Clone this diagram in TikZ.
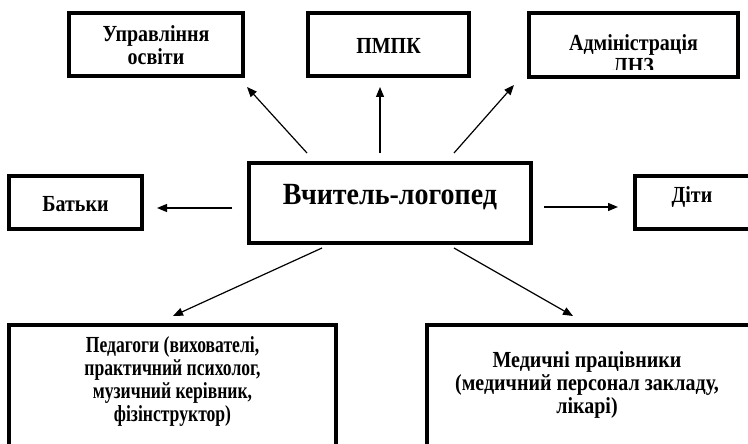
\documentclass[tikz,border=0pt]{standalone}
\usepackage{fontspec}
\setmainfont{Liberation Serif}
\usetikzlibrary{arrows.meta}
\begin{document}
\begin{tikzpicture}[x=1pt,y=-1pt,
  box/.style={draw, line width=4pt, inner sep=0pt, rectangle},
  txt/.style={font=\fontsize{20}{20}\selectfont\bfseries, align=center, inner sep=0pt, transform shape},
  bigtxt/.style={font=\fontsize{28}{28}\selectfont\bfseries, align=center, inner sep=0pt, transform shape},
  arr/.style={-{Triangle[length=10pt,width=8pt]}, line width=1.2pt}]
\useasboundingbox (0,0) rectangle (748,444);
\clip (0,0) rectangle (748,444);
\fill[white] (0,0) rectangle (748,444);
% top boxes
\node[box, minimum width=174pt, minimum height=63pt] (upr) at (156,44.5) {};
\begin{scope}[shift={(156,45)}, yscale=1.15]
  \node[txt] (uprt) at (0,0) {Управління\\освіти};
\end{scope}
\node[box, minimum width=161pt, minimum height=63pt] (pmpk) at (388.5,44.5) {};
\begin{scope}[shift={(388.5,46)}, yscale=1.15]
  \node[txt] (pmpkt) at (0,0) {ПМПК};
\end{scope}
\node[box, minimum width=209pt, minimum height=64pt] (adm) at (633.5,45) {};
\begin{scope}
  \clip (520,0) rectangle (745,70);
  \begin{scope}[shift={(633.5,54)}, yscale=1.15]
    \node[txt] (admt) at (0,0) {Адміністрація\\ЛНЗ};
  \end{scope}
\end{scope}
% middle row
\node[box, minimum width=133pt, minimum height=53pt] (bat) at (75.5,202.5) {};
\begin{scope}[shift={(75.5,204)}, yscale=1.15]
  \node[txt] (batt) at (0,0) {Батьки};
\end{scope}
\node[box, minimum width=282pt, minimum height=80pt] (main) at (390,203) {};
\begin{scope}[shift={(390,197)}, yscale=1.1]
  \node[bigtxt] (maint) at (0,0) {Вчитель-логопед};
\end{scope}
\node[box, minimum width=117pt, minimum height=53pt] (dity) at (693.5,202.5) {};
\begin{scope}[shift={(692,197)}, yscale=1.15]
  \node[txt] (ditytxt) at (0,0) {Діти};
\end{scope}
% bottom boxes
\node[box, minimum width=327pt, minimum height=140pt] (ped) at (172.5,395) {};
\begin{scope}[shift={(172.5,381.5)}, xscale=0.88, yscale=1.15]
  \node[txt] (pedt) at (0,0) {Педагоги (вихователі,\\практичний психолог,\\музичний керівник,\\фізінструктор)};
\end{scope}
\node[box, minimum width=338pt, minimum height=140pt] (med) at (596,395) {};
\begin{scope}[shift={(587,385)}, yscale=1.15]
  \node[txt] (medt) at (0,0) {Медичні працівники\\(медичний персонал закладу,\\лікарі)};
\end{scope}
% arrow ends
\coordinate (s1) at (307,153); \coordinate (e1) at (247,87);
\coordinate (s2) at (380,153); \coordinate (e2) at (380,87);
\coordinate (s3) at (454,153); \coordinate (e3) at (514,85);
\coordinate (s4) at (232,208); \coordinate (e4) at (157,208);
\coordinate (s5) at (544,207); \coordinate (e5) at (618,207);
\coordinate (s6) at (322,248); \coordinate (e6) at (173,316);
\coordinate (s7) at (454,248); \coordinate (e7) at (573,316);
\draw[arr] (s1) -- (e1);
\draw[arr] (s2) -- (e2);
\draw[arr] (s3) -- (e3);
\draw[arr] (s4) -- (e4);
\draw[arr] (s5) -- (e5);
\draw[arr] (s6) -- (e6);
\draw[arr] (s7) -- (e7);
\end{tikzpicture}
\end{document}
